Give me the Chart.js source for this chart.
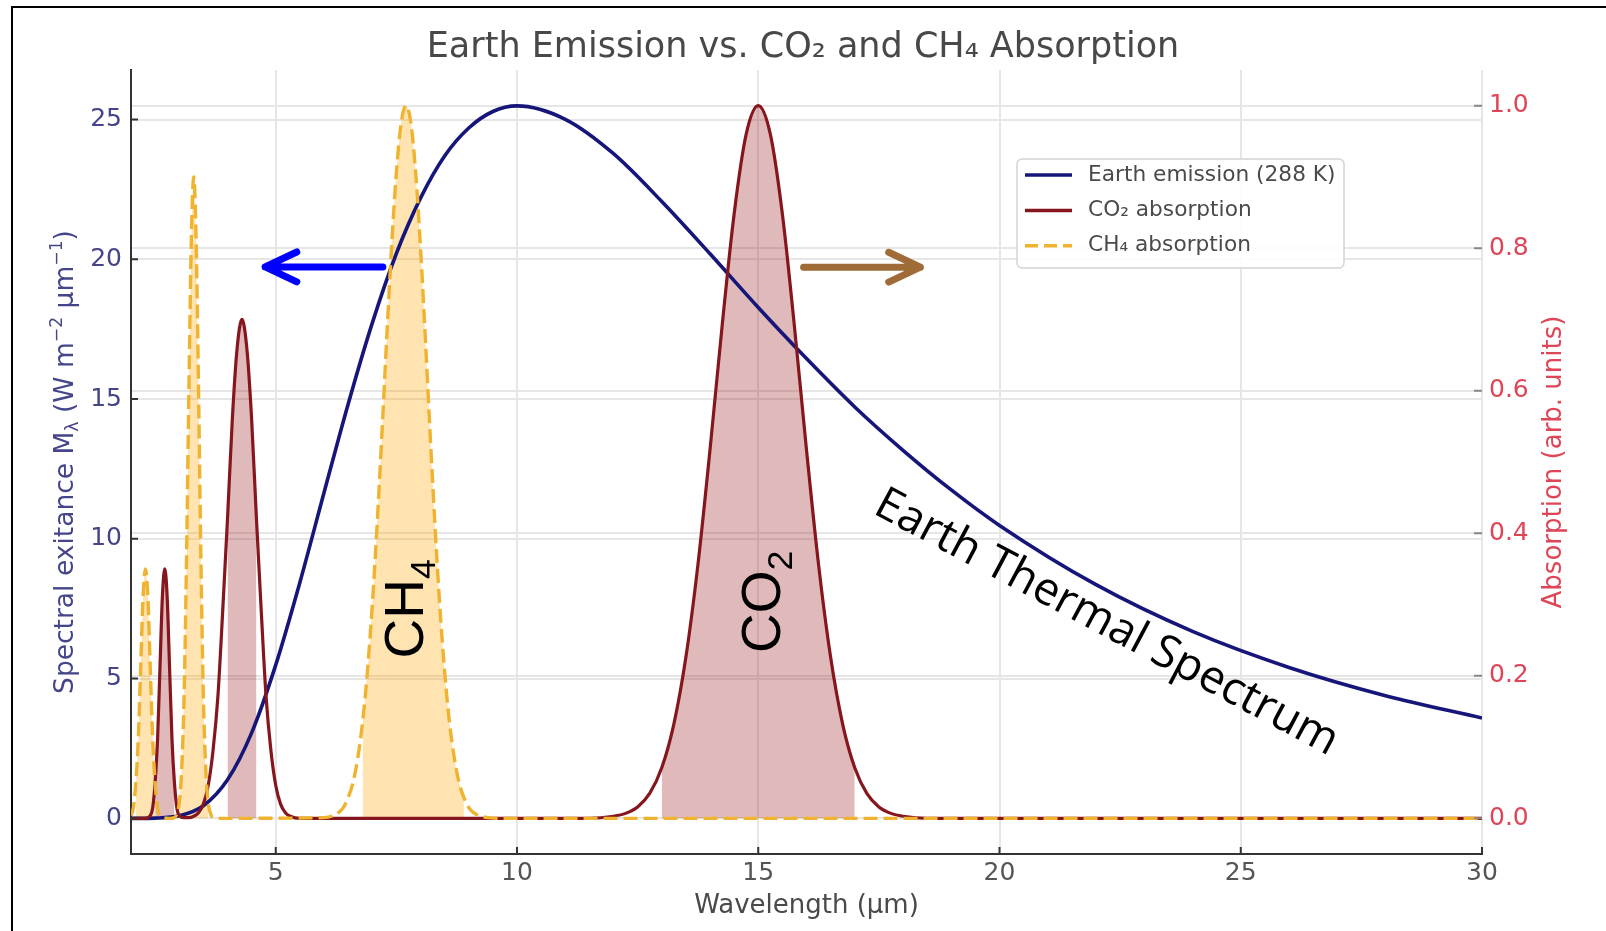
<!DOCTYPE html>
<html>
<head>
<meta charset="utf-8">
<title>Earth Emission vs. CO2 and CH4 Absorption</title>
<script src="https://cdn.jsdelivr.net/npm/chart.js@4.4.1/dist/chart.umd.min.js"></script>
<style>
  html, body { margin:0; padding:0; background:#fff; }
  #wrap { position:relative; width:1606px; height:931px; overflow:hidden; }
  #frame { position:absolute; left:11px; top:6px; width:1700px; height:1000px; border-left:2px solid #000; border-top:2px solid #000; }
  #c { position:absolute; left:0; top:0; }
</style>
</head>
<body>
<div id="wrap">
  <div id="frame"></div>
  <canvas id="c" width="1606" height="931"></canvas>
</div>
<script>
// --- data ---
const emissionX = [2, 2.5, 3, 3.5, 4, 4.5, 5, 5.5, 6, 6.5, 7, 7.5, 8, 8.5, 9, 9.5, 10, 11, 12, 13, 14, 15, 16, 17, 18, 19, 20, 22, 24, 26, 28, 30];
const emissionY = [0.00, 0.01, 0.09, 0.45, 1.38, 3.06, 5.49, 8.44, 11.65, 14.82, 17.72, 20.21, 22.19, 23.70, 24.70, 25.29, 25.49, 25.01, 23.78, 22.07, 20.20, 18.28, 16.45, 14.72, 13.17, 11.75, 10.48, 8.36, 6.69, 5.40, 4.39, 3.59];

const co2X = [2, 2.3, 2.4, 2.45, 2.5, 2.55, 2.6, 2.65, 2.7, 2.75, 2.8, 2.85, 2.9, 2.95, 3.0, 3.1, 3.2, 3.3, 3.4, 3.5,
  3.6, 3.7, 3.8, 3.9, 4.0, 4.1, 4.2, 4.3, 4.4, 4.5, 4.6, 4.7, 4.8, 4.9, 5.0, 5.1, 5.2, 5.3, 5.5, 11.5,
  12, 12.25, 12.5, 12.75, 13, 13.25, 13.5, 13.75, 14, 14.25, 14.5, 14.75, 15, 15.25, 15.5, 15.75, 16, 16.25, 16.5, 16.75,
  17, 17.25, 17.5, 17.75, 18, 18.5, 30];
const co2Y = [0, 0, 0.004, 0.015, 0.05, 0.11, 0.21, 0.31, 0.35, 0.31, 0.21, 0.11, 0.05, 0.015, 0.004, 0.001, 0.001, 0.003, 0.008, 0.020,
  0.046, 0.095, 0.17, 0.29, 0.42, 0.56, 0.66, 0.70, 0.66, 0.56, 0.42, 0.29, 0.17, 0.095, 0.046, 0.020, 0.008, 0.003, 0, 0,
  0.003, 0.007, 0.016, 0.035, 0.071, 0.132, 0.226, 0.356, 0.517, 0.690, 0.848, 0.960, 1.0, 0.960, 0.848, 0.690, 0.517, 0.356, 0.226, 0.132,
  0.071, 0.035, 0.016, 0.007, 0.003, 0, 0];

const ch4X = [2, 2.05, 2.1, 2.15, 2.2, 2.25, 2.3, 2.35, 2.4, 2.45, 2.5, 2.55, 2.6, 2.8, 2.9, 2.95, 3.0, 3.05, 3.1, 3.15,
  3.2, 3.25, 3.3, 3.35, 3.4, 3.45, 3.5, 3.55, 3.6, 3.65, 3.7, 3.8, 6.0, 6.2, 6.3, 6.4, 6.5, 6.6, 6.7, 6.8,
  6.9, 7.0, 7.1, 7.2, 7.3, 7.4, 7.5, 7.6, 7.7, 7.8, 7.9, 8.0, 8.1, 8.2, 8.3, 8.4, 8.5, 8.6, 8.7, 8.8,
  8.9, 9.0, 9.1, 9.2, 9.4, 9.6, 30];
const ch4Y = [0.004, 0.015, 0.05, 0.11, 0.21, 0.31, 0.35, 0.31, 0.21, 0.11, 0.05, 0.015, 0.004, 0, 0.001, 0.006, 0.022, 0.068, 0.17, 0.36,
  0.60, 0.81, 0.90, 0.81, 0.60, 0.36, 0.17, 0.068, 0.022, 0.006, 0.001, 0, 0.001, 0.004, 0.008, 0.015, 0.029, 0.050, 0.085, 0.135,
  0.206, 0.298, 0.411, 0.539, 0.674, 0.801, 0.906, 0.976, 1.0, 0.976, 0.906, 0.801, 0.674, 0.539, 0.411, 0.298, 0.206, 0.135, 0.085, 0.050,
  0.029, 0.015, 0.008, 0.004, 0.001, 0, 0];

// shaded windows under the absorption curves (µm)
const co2Bands = [[2.5, 2.9], [4.0, 4.6], [13, 17]];
const ch4Bands = [[2.1, 2.5], [3.0, 3.6], [6.8, 8.9]];

const xTicks = [5, 10, 15, 20, 25, 30];
const leftTicks = [0, 5, 10, 15, 20, 25];
const rightTicks = [0, 0.2, 0.4, 0.6, 0.8, 1.0];

// annotations, in data units (x: µm, y: left axis)
const arrows = [
  { from:[7.22, 19.73], to:[4.78, 19.73], color:'#0000ff' },
  { from:[15.94, 19.72], to:[18.36, 19.72], color:'#9f6b37' },
];
const notes = [
  { text:'CH', sub:'4', at:[7.64, 7.5], angle:-90 },
  { text:'CO', sub:'2', at:[15.04, 7.75], angle:-90 },
  { text:'Earth Thermal Spectrum', at:[22.25, 7.1], angle:28 },
];

// --- styles ---
const FONT = '"DejaVu Sans", sans-serif';
const NAVY = '#16167a';
const CO2_RED = '#86161e';
const CH4_ORANGE = '#efb32f';
const LEFT_TXT = '#45458a';
const RIGHT_TXT = '#de4657';
const GRID = '#e6e6e6';

const pts = (xs, ys) => xs.map((x, i) => ({ x, y: ys[i] }));
const band = (xs, ys, [a, b]) => pts(xs, ys).filter(p => p.x >= a && p.x <= b);
const fixTicks = list => scale => { scale.ticks = list.map(v => ({ value: v })); };

function bandSet(xs, ys, b, color, order){
  return {
    label: '', data: band(xs, ys, b), yAxisID: 'y2',
    fill: 'origin', backgroundColor: color,
    borderColor: 'rgba(0,0,0,0)', borderWidth: 1,
    pointRadius: 0, cubicInterpolationMode: 'monotone', order,
  };
}

function drawRuns(ctx, runs, cx, cy, angle, size, family, color){
  ctx.save();
  ctx.translate(cx, cy);
  ctx.rotate(angle * Math.PI / 180);
  ctx.fillStyle = color;
  ctx.textBaseline = 'alphabetic';
  ctx.textAlign = 'left';
  const parts = runs.map(r => {
    const s = r.sub || r.sup ? size * 0.65 : size;
    ctx.font = `${s}px ${family}`;
    return { ...r, s, w: ctx.measureText(r.t).width };
  });
  const total = parts.reduce((a, p) => a + p.w, 0);
  let x = -total / 2;
  const base = size * 0.36;
  parts.forEach(p => {
    ctx.font = `${p.s}px ${family}`;
    let dy = base;
    if (p.sub) dy += size * 0.22;
    if (p.sup) dy -= size * 0.4;
    ctx.fillText(p.t, x, dy);
    x += p.w;
  });
  ctx.restore();
}

function drawArrow(ctx, x0, y0, x1, y1, color){
  const ang = Math.atan2(y1 - y0, x1 - x0);
  const L = 35, th = 0.44;
  ctx.save();
  ctx.strokeStyle = color;
  ctx.lineWidth = 7;
  ctx.lineCap = 'round';
  ctx.lineJoin = 'round';
  ctx.beginPath();
  ctx.moveTo(x0, y0);
  ctx.lineTo(x1, y1);
  ctx.moveTo(x1 - L * Math.cos(ang - th), y1 - L * Math.sin(ang - th));
  ctx.lineTo(x1, y1);
  ctx.lineTo(x1 - L * Math.cos(ang + th), y1 - L * Math.sin(ang + th));
  ctx.stroke();
  ctx.restore();
}

const overlay = {
  id: 'overlay',
  afterDraw(chart){
    const { ctx, chartArea: a, scales: { x, y, y2 } } = chart;
    ctx.save();
    // inward tick marks
    ctx.strokeStyle = '#333';
    ctx.lineWidth = 2;
    ctx.beginPath();
    xTicks.forEach(v => { const px = x.getPixelForValue(v); ctx.moveTo(px, a.bottom); ctx.lineTo(px, a.bottom - 7); });
    leftTicks.forEach(v => { const py = y.getPixelForValue(v); ctx.moveTo(a.left, py); ctx.lineTo(a.left + 7, py); });
    ctx.stroke();
    ctx.strokeStyle = '#888';
    ctx.beginPath();
    rightTicks.forEach(v => { const py = y2.getPixelForValue(v); ctx.moveTo(a.right - 8, py); ctx.lineTo(a.right, py); });
    ctx.stroke();
    ctx.restore();

    // axis titles
    const midY = (a.top + a.bottom) / 2;
    drawRuns(ctx, [
      { t:'Spectral exitance M' }, { t:'λ', sub:true }, { t:' (W m' }, { t:'−2', sup:true },
      { t:' µm' }, { t:'−1', sup:true }, { t:')' },
    ], 63, midY, -90, 26.5, FONT, LEFT_TXT);
    drawRuns(ctx, [{ t:'Absorption (arb. units)' }], 1552, midY, -90, 26, FONT, RIGHT_TXT);

    // legend
    const lg = { x:1017, y:159, w:327, h:109 };
    ctx.save();
    ctx.fillStyle = 'rgba(255,255,255,0.85)';
    ctx.strokeStyle = '#d4d4d4';
    ctx.lineWidth = 1.5;
    ctx.beginPath();
    ctx.roundRect(lg.x, lg.y, lg.w, lg.h, 5);
    ctx.fill();
    ctx.stroke();
    const rows = chart.data.datasets.slice(0, 3);
    rows.forEach((ds, i) => {
      const ry = lg.y + 16 + i * 35.4;
      ctx.strokeStyle = ds.borderColor;
      ctx.lineWidth = 3.5;
      ctx.setLineDash(ds.borderDash ? [13, 6] : []);
      ctx.beginPath();
      ctx.moveTo(lg.x + 8, ry);
      ctx.lineTo(lg.x + 55, ry);
      ctx.stroke();
      ctx.setLineDash([]);
      ctx.fillStyle = '#4a4a4a';
      ctx.font = `21.7px ${FONT}`;
      ctx.textBaseline = 'middle';
      ctx.textAlign = 'left';
      ctx.fillText(ds.label, lg.x + 71, ry);
    });
    ctx.restore();

    // annotations
    arrows.forEach(ar => {
      drawArrow(ctx,
        x.getPixelForValue(ar.from[0]), y.getPixelForValue(ar.from[1]),
        x.getPixelForValue(ar.to[0]), y.getPixelForValue(ar.to[1]), ar.color);
    });
    notes.forEach(n => {
      const px = x.getPixelForValue(n.at[0]);
      const py = y.getPixelForValue(n.at[1]);
      if (n.sub) {
        drawRuns(ctx, [{ t:n.text }, { t:n.sub, sub:true }], px, py, n.angle, 55, '"Liberation Sans", Arial, sans-serif', '#000');
      } else {
        drawRuns(ctx, [{ t:n.text }], px, py, n.angle, 45.5, '"Open Sans", sans-serif', '#000');
      }
    });
  },
};

Chart.defaults.font.family = FONT;

new Chart(document.getElementById('c'), {
  type: 'line',
  data: {
    datasets: [
      {
        label: 'Earth emission (288 K)', data: pts(emissionX, emissionY), yAxisID: 'y',
        borderColor: NAVY, borderWidth: 3.6, pointRadius: 0, fill: false,
        cubicInterpolationMode: 'monotone', order: 3,
      },
      {
        label: 'CO₂ absorption', data: pts(co2X, co2Y), yAxisID: 'y2',
        borderColor: CO2_RED, borderWidth: 3.2, pointRadius: 0, fill: false,
        cubicInterpolationMode: 'monotone', order: 2,
      },
      {
        label: 'CH₄ absorption', data: pts(ch4X, ch4Y), yAxisID: 'y2',
        borderColor: CH4_ORANGE, borderWidth: 3.4, borderDash: [14, 6], pointRadius: 0, fill: false,
        cubicInterpolationMode: 'monotone', order: 1,
      },
      ...co2Bands.map(b => bandSet(co2X, co2Y, b, 'rgba(139,0,0,0.27)', 5)),
      ...ch4Bands.map(b => bandSet(ch4X, ch4Y, b, 'rgba(255,165,0,0.30)', 4)),
    ],
  },
  options: {
    responsive: false,
    animation: false,
    devicePixelRatio: 1,
    layout: { padding: 0 },
    plugins: {
      legend: { display: false },
      tooltip: { enabled: false },
      title: {
        display: true,
        text: 'Earth Emission vs. CO₂ and CH₄ Absorption',
        color: '#484848',
        font: { size: 35, weight: 'normal', family: FONT },
        padding: { top: 27, bottom: 1 },
      },
    },
    scales: {
      x: {
        type: 'linear', min: 2, max: 30,
        afterBuildTicks: fixTicks(xTicks),
        afterFit: s => { s.height = 77; },
        grid: { color: GRID, lineWidth: 2, drawTicks: false },
        border: { display: true, color: '#333', width: 2 },
        ticks: { color: '#555', font: { size: 25 }, padding: 4, maxRotation: 0, autoSkip: false },
        title: { display: true, text: 'Wavelength (µm)', color: '#4a4a4a', font: { size: 26 }, padding: { top: 0, bottom: 9 } },
      },
      y: {
        position: 'left', min: -1.275, max: 26.775,
        afterBuildTicks: fixTicks(leftTicks),
        afterFit: s => { s.width = 131; },
        grid: { color: GRID, lineWidth: 2, drawTicks: false },
        border: { display: true, color: '#333', width: 2 },
        ticks: { color: LEFT_TXT, font: { size: 25 }, padding: 9, autoSkip: false },
      },
      y2: {
        position: 'right', min: -0.05, max: 1.05,
        afterBuildTicks: fixTicks(rightTicks),
        afterFit: s => { s.width = 124; },
        grid: { color: GRID, lineWidth: 2, drawTicks: false },
        border: { display: false },
        ticks: { color: RIGHT_TXT, font: { size: 25 }, padding: 7, autoSkip: false, callback: v => Number(v).toFixed(1) },
      },
    },
  },
  plugins: [overlay],
});
</script>
</body>
</html>
